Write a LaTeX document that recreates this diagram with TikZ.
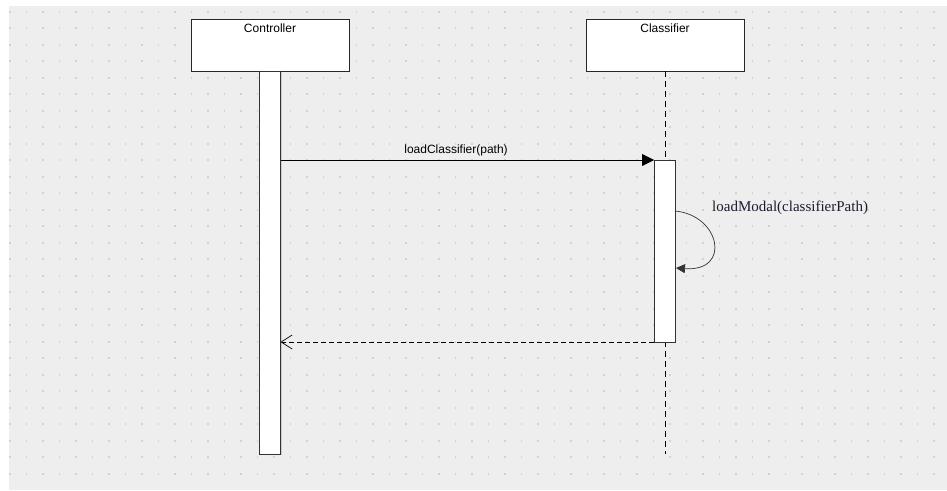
\documentclass[tikz,border=0pt]{standalone}
\usepackage{fontspec}
\setmainfont{Liberation Sans}
\newfontfamily\serifmsg{Liberation Serif}
\usetikzlibrary{positioning, arrows.meta, calc, shadows}

\definecolor{canvasgray}{HTML}{EEEEEE}
\definecolor{griddot}{HTML}{D3D3D3}
\definecolor{msgink}{HTML}{1C1C30}

\begin{document}
\begin{tikzpicture}[
		x=1pt, y=-1pt,
		lifebox/.style={draw=black!85, fill=white, line width=0.8pt, minimum width=158pt, minimum height=52pt, inner sep=0pt, outer sep=0pt},
		boxtitle/.style={anchor=north, yshift=-3pt, inner sep=2pt, font=\fontsize{12}{14}\selectfont},
		actbar/.style={draw=black!80, fill=white, line width=0.8pt, minimum width=21pt, inner sep=0pt, outer sep=0pt, drop shadow={shadow xshift=1pt, shadow yshift=-1pt, opacity=0.3}},
		lifeline/.style={line width=0.8pt, dash pattern=on 6pt off 4pt},
		callmsg/.style={line width=0.8pt, -{Triangle[length=12pt, width=12pt]}},
		selfmsg/.style={line width=0.7pt, black!80, -{Triangle[length=9pt, width=9pt]}},
		retmsg/.style={line width=0.8pt, dash pattern=on 5pt off 3pt, -{Straight Barb[length=11pt, width=14pt, line width=0.7pt]}},
		msglabel/.style={font=\fontsize{12}{14}\selectfont}
		]
		
		% ==========================================
		% canvas with dot grid
		% ==========================================
		\useasboundingbox (0,0) rectangle (947,490);
		\fill[white] (0,0) rectangle (947,490);
		\fill[canvasgray] (9,6) rectangle (947,490);
		\foreach \i in {0,...,56}{
			\foreach \j in {0,...,28}{
				\fill[griddot] (9.2+16.5*\i, 10.9+16.5*\j) rectangle ++(1.6,1.6);
			}
		}
		
		% ==========================================
		% lifelines
		% ==========================================
		\node[lifebox] (ctrl) at (270,45) {};
		\node[boxtitle] (ctrltitle) at (ctrl.north) {Controller};
		
		\node[lifebox] (clf) at (665,45) {};
		\node[boxtitle] (clftitle) at (clf.north) {Classifier};
		
		\coordinate (clfend) at (665,454);
		\draw[lifeline] (clf.south) -- (clfend);
		
		\node[actbar, minimum height=383pt, below=0pt of ctrl] (ctrlbar) {};
		\node[actbar, minimum height=182pt, below=89pt of clf, xshift=-0.5pt] (clfbar) {};
		
		% ==========================================
		% messages
		% ==========================================
		\draw[callmsg] (ctrlbar.east |- clfbar.north) -- (clfbar.north west)
			node[msglabel, above, pos=0.47] (loadlbl) {loadClassifier(path)};
		
		% self call on the classifier
		\coordinate (selfout) at (clfbar.east |- 0,211);
		\coordinate (selfin) at ($(clfbar.east |- 0,268)+(1,0)$);
		\draw[selfmsg] (selfout) .. controls (720,215) and (732,272) .. (selfin);
		\node[right=37pt of selfout, yshift=3pt, inner sep=0pt, text=msgink, font=\serifmsg\fontsize{15}{17}\selectfont] (selflbl) {loadModal(classifierPath)};
		
		% reply back to the controller
		\draw[retmsg] (clfbar.south west) -- (ctrlbar.east |- clfbar.south);
		
	\end{tikzpicture}
\end{document}
